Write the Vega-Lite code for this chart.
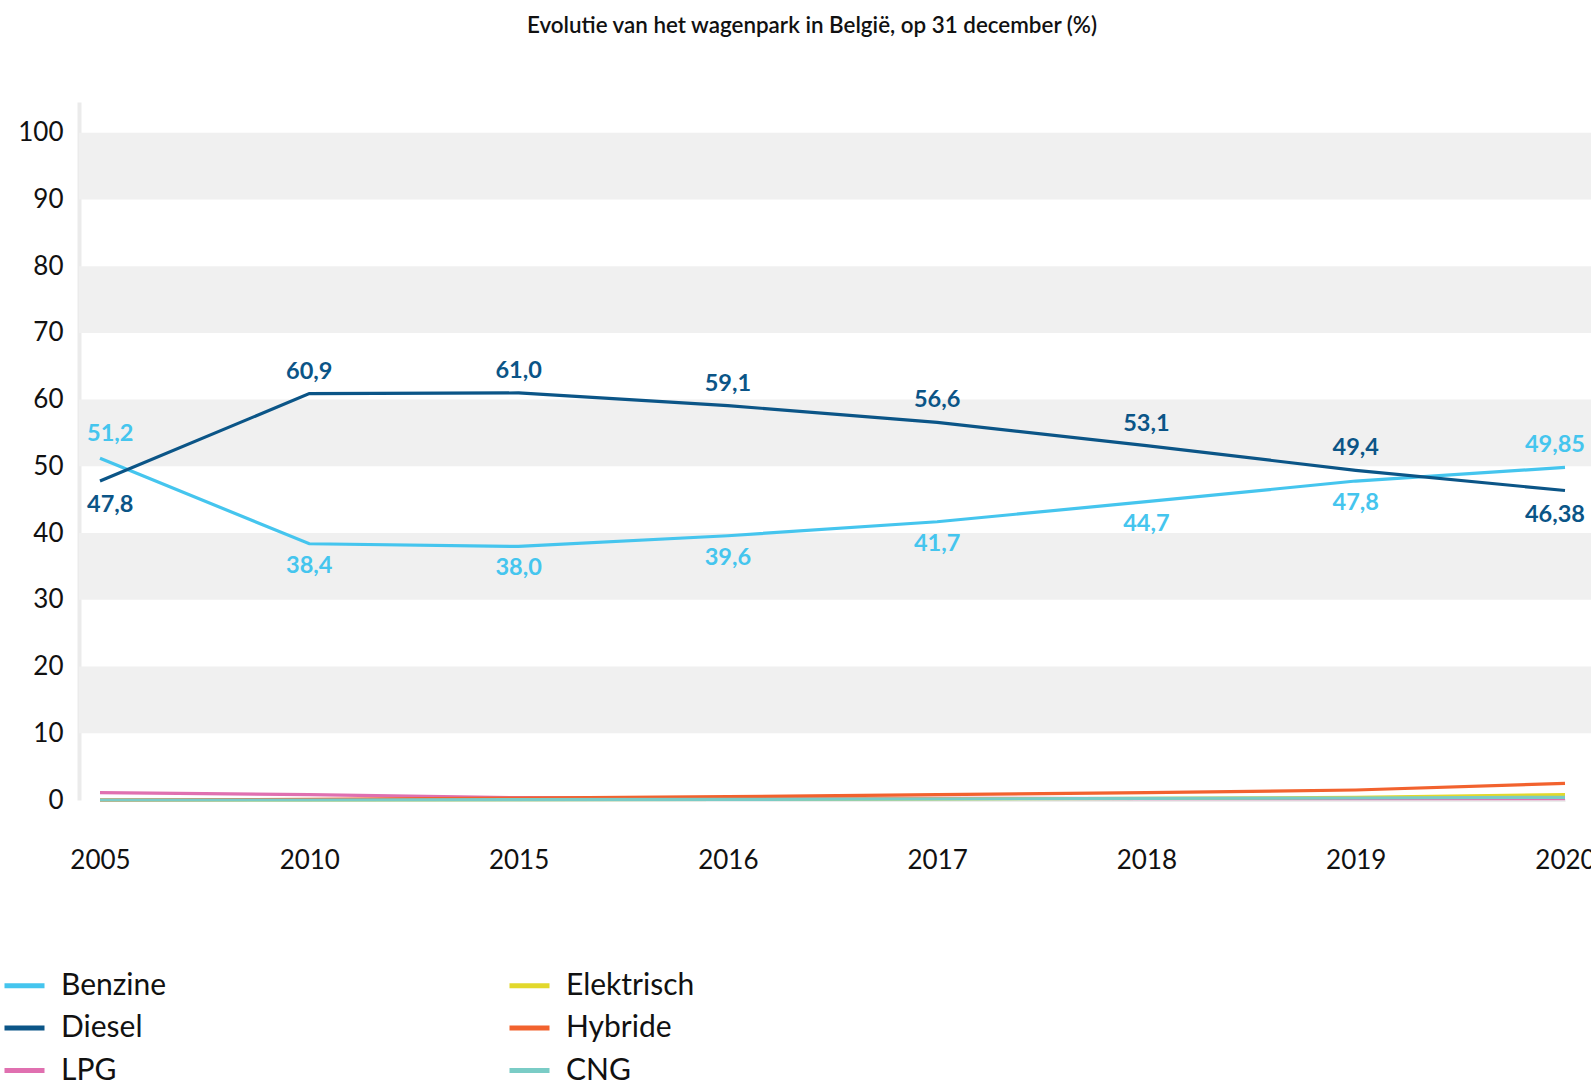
{
  "$schema": "https://vega.github.io/schema/vega-lite/v6.json",
  "width": 1512,
  "height": 698,
  "autosize": "none",
  "padding": {"left": 79, "top": 102, "right": 0, "bottom": 284},
  "background": "white",
  "title": {
    "text": "Evolutie van het wagenpark in België, op 31 december (%)",
    "font": "Lato",
    "fontSize": 22.4,
    "fontWeight": 600,
    "color": "#111111",
    "anchor": "middle",
    "dx": -23,
    "offset": 65
  },
  "datasets": {
    "series": [
      {"year": "2005", "fuel": "Benzine", "value": 51.2, "label": "51,2"},
      {"year": "2010", "fuel": "Benzine", "value": 38.4, "label": "38,4"},
      {"year": "2015", "fuel": "Benzine", "value": 38.0, "label": "38,0"},
      {"year": "2016", "fuel": "Benzine", "value": 39.6, "label": "39,6"},
      {"year": "2017", "fuel": "Benzine", "value": 41.7, "label": "41,7"},
      {"year": "2018", "fuel": "Benzine", "value": 44.7, "label": "44,7"},
      {"year": "2019", "fuel": "Benzine", "value": 47.8, "label": "47,8"},
      {"year": "2020", "fuel": "Benzine", "value": 49.85, "label": "49,85"},
      {"year": "2005", "fuel": "Diesel", "value": 47.8, "label": "47,8"},
      {"year": "2010", "fuel": "Diesel", "value": 60.9, "label": "60,9"},
      {"year": "2015", "fuel": "Diesel", "value": 61.0, "label": "61,0"},
      {"year": "2016", "fuel": "Diesel", "value": 59.1, "label": "59,1"},
      {"year": "2017", "fuel": "Diesel", "value": 56.6, "label": "56,6"},
      {"year": "2018", "fuel": "Diesel", "value": 53.1, "label": "53,1"},
      {"year": "2019", "fuel": "Diesel", "value": 49.4, "label": "49,4"},
      {"year": "2020", "fuel": "Diesel", "value": 46.38, "label": "46,38"},
      {"year": "2005", "fuel": "LPG", "value": 1.1},
      {"year": "2010", "fuel": "LPG", "value": 0.8},
      {"year": "2015", "fuel": "LPG", "value": 0.35},
      {"year": "2016", "fuel": "LPG", "value": 0.3},
      {"year": "2017", "fuel": "LPG", "value": 0.25},
      {"year": "2018", "fuel": "LPG", "value": 0.2},
      {"year": "2019", "fuel": "LPG", "value": 0.2},
      {"year": "2020", "fuel": "LPG", "value": 0.2},
      {"year": "2005", "fuel": "Elektrisch", "value": 0.0},
      {"year": "2010", "fuel": "Elektrisch", "value": 0.0},
      {"year": "2015", "fuel": "Elektrisch", "value": 0.05},
      {"year": "2016", "fuel": "Elektrisch", "value": 0.1},
      {"year": "2017", "fuel": "Elektrisch", "value": 0.15},
      {"year": "2018", "fuel": "Elektrisch", "value": 0.25},
      {"year": "2019", "fuel": "Elektrisch", "value": 0.4},
      {"year": "2020", "fuel": "Elektrisch", "value": 0.8},
      {"year": "2005", "fuel": "Hybride", "value": 0.0},
      {"year": "2010", "fuel": "Hybride", "value": 0.1},
      {"year": "2015", "fuel": "Hybride", "value": 0.3},
      {"year": "2016", "fuel": "Hybride", "value": 0.5},
      {"year": "2017", "fuel": "Hybride", "value": 0.8},
      {"year": "2018", "fuel": "Hybride", "value": 1.1},
      {"year": "2019", "fuel": "Hybride", "value": 1.5},
      {"year": "2020", "fuel": "Hybride", "value": 2.5},
      {"year": "2005", "fuel": "CNG", "value": 0.0},
      {"year": "2010", "fuel": "CNG", "value": 0.0},
      {"year": "2015", "fuel": "CNG", "value": 0.05},
      {"year": "2016", "fuel": "CNG", "value": 0.1},
      {"year": "2017", "fuel": "CNG", "value": 0.15},
      {"year": "2018", "fuel": "CNG", "value": 0.25},
      {"year": "2019", "fuel": "CNG", "value": 0.3},
      {"year": "2020", "fuel": "CNG", "value": 0.4}
    ],
    "bands": [
      {"lo": 10, "hi": 20},
      {"lo": 30, "hi": 40},
      {"lo": 50, "hi": 60},
      {"lo": 70, "hi": 80},
      {"lo": 90, "hi": 100}
    ]
  },
  "layer": [
    {
      "data": {"name": "bands"},
      "mark": {"type": "rect", "color": "#f0f0f0"},
      "encoding": {
        "x": {"value": 0},
        "x2": {"value": "width"},
        "y": {"field": "lo", "type": "quantitative", "scale": {"domain": [0, 104.6], "nice": false}},
        "y2": {"field": "hi"}
      }
    },
    {
      "data": {"name": "series"},
      "mark": {"type": "line", "strokeWidth": 3.2},
      "encoding": {
        "x": {
          "field": "year", "type": "ordinal",
          "scale": {"type": "point", "range": [21, 1486], "padding": 0},
          "axis": {
            "title": null, "labelAngle": 0, "ticks": false, "grid": false,
            "domain": true, "domainColor": "#ebebeb", "domainWidth": 3,
            "labelFont": "Lato", "labelFontSize": 26, "labelColor": "#111111",
            "labelPadding": 47
          }
        },
        "y": {
          "field": "value", "type": "quantitative",
          "scale": {"domain": [0, 104.6], "nice": false},
          "axis": {
            "title": null, "values": [0, 10, 20, 30, 40, 50, 60, 70, 80, 90, 100],
            "ticks": false, "grid": false, "domain": true, "domainColor": "#ebebeb", "domainWidth": 4,
            "labelFont": "Lato", "labelFontSize": 26, "labelColor": "#111111",
            "labelPadding": 16
          }
        },
        "color": {
          "field": "fuel", "type": "nominal",
          "scale": {
            "domain": ["Benzine", "Diesel", "LPG", "Elektrisch", "Hybride", "CNG"],
            "range": ["#45c5ee", "#0b5587", "#e070b0", "#e2d82c", "#f2622e", "#7accc6"]
          },
          "legend": {
            "title": null, "orient": "none", "legendX": -77, "legendY": 861,
            "columns": 2, "columnPadding": 332, "rowPadding": 4.5,
            "symbolType": "stroke", "symbolSize": 1600, "symbolStrokeWidth": 5,
            "labelFont": "Lato", "labelFontSize": 30, "labelColor": "#111111",
            "labelOffset": 14, "labelLimit": 400
          }
        },
        "detail": {"field": "fuel"}
      }
    },
    {
      "data": {"name": "series"},
      "transform": [{"filter": "datum.fuel === 'Benzine' && datum.year !== '2005' && datum.year !== '2020'"}],
      "mark": {"type": "text", "font": "Lato", "fontSize": 23.5, "fontWeight": "bold", "color": "#45c5ee", "dy": 22, "baseline": "middle"},
      "encoding": {
        "x": {"field": "year", "type": "ordinal"},
        "y": {"field": "value", "type": "quantitative"},
        "text": {"field": "label"}
      }
    },
    {
      "data": {"name": "series"},
      "transform": [{"filter": "datum.fuel === 'Diesel' && datum.year !== '2005' && datum.year !== '2020'"}],
      "mark": {"type": "text", "font": "Lato", "fontSize": 23.5, "fontWeight": "bold", "color": "#0b5587", "dy": -22, "baseline": "middle"},
      "encoding": {
        "x": {"field": "year", "type": "ordinal"},
        "y": {"field": "value", "type": "quantitative"},
        "text": {"field": "label"}
      }
    },
    {
      "data": {"name": "series"},
      "transform": [{"filter": "datum.fuel === 'Benzine' && datum.year === '2005'"}],
      "mark": {"type": "text", "font": "Lato", "fontSize": 23.5, "fontWeight": "bold", "color": "#45c5ee", "dy": -24, "dx": -13, "align": "left", "baseline": "middle"},
      "encoding": {
        "x": {"field": "year", "type": "ordinal"},
        "y": {"field": "value", "type": "quantitative"},
        "text": {"field": "label"}
      }
    },
    {
      "data": {"name": "series"},
      "transform": [{"filter": "datum.fuel === 'Diesel' && datum.year === '2005'"}],
      "mark": {"type": "text", "font": "Lato", "fontSize": 23.5, "fontWeight": "bold", "color": "#0b5587", "dy": 24, "dx": -13, "align": "left", "baseline": "middle"},
      "encoding": {
        "x": {"field": "year", "type": "ordinal"},
        "y": {"field": "value", "type": "quantitative"},
        "text": {"field": "label"}
      }
    },
    {
      "data": {"name": "series"},
      "transform": [{"filter": "datum.fuel === 'Benzine' && datum.year === '2020'"}],
      "mark": {"type": "text", "font": "Lato", "fontSize": 23.5, "fontWeight": "bold", "color": "#45c5ee", "dy": -22, "dx": 20, "align": "right", "baseline": "middle"},
      "encoding": {
        "x": {"field": "year", "type": "ordinal"},
        "y": {"field": "value", "type": "quantitative"},
        "text": {"field": "label"}
      }
    },
    {
      "data": {"name": "series"},
      "transform": [{"filter": "datum.fuel === 'Diesel' && datum.year === '2020'"}],
      "mark": {"type": "text", "font": "Lato", "fontSize": 23.5, "fontWeight": "bold", "color": "#0b5587", "dy": 24, "dx": 20, "align": "right", "baseline": "middle"},
      "encoding": {
        "x": {"field": "year", "type": "ordinal"},
        "y": {"field": "value", "type": "quantitative"},
        "text": {"field": "label"}
      }
    }
  ],
  "config": {
    "view": {"stroke": null},
    "font": "Lato"
  }
}
